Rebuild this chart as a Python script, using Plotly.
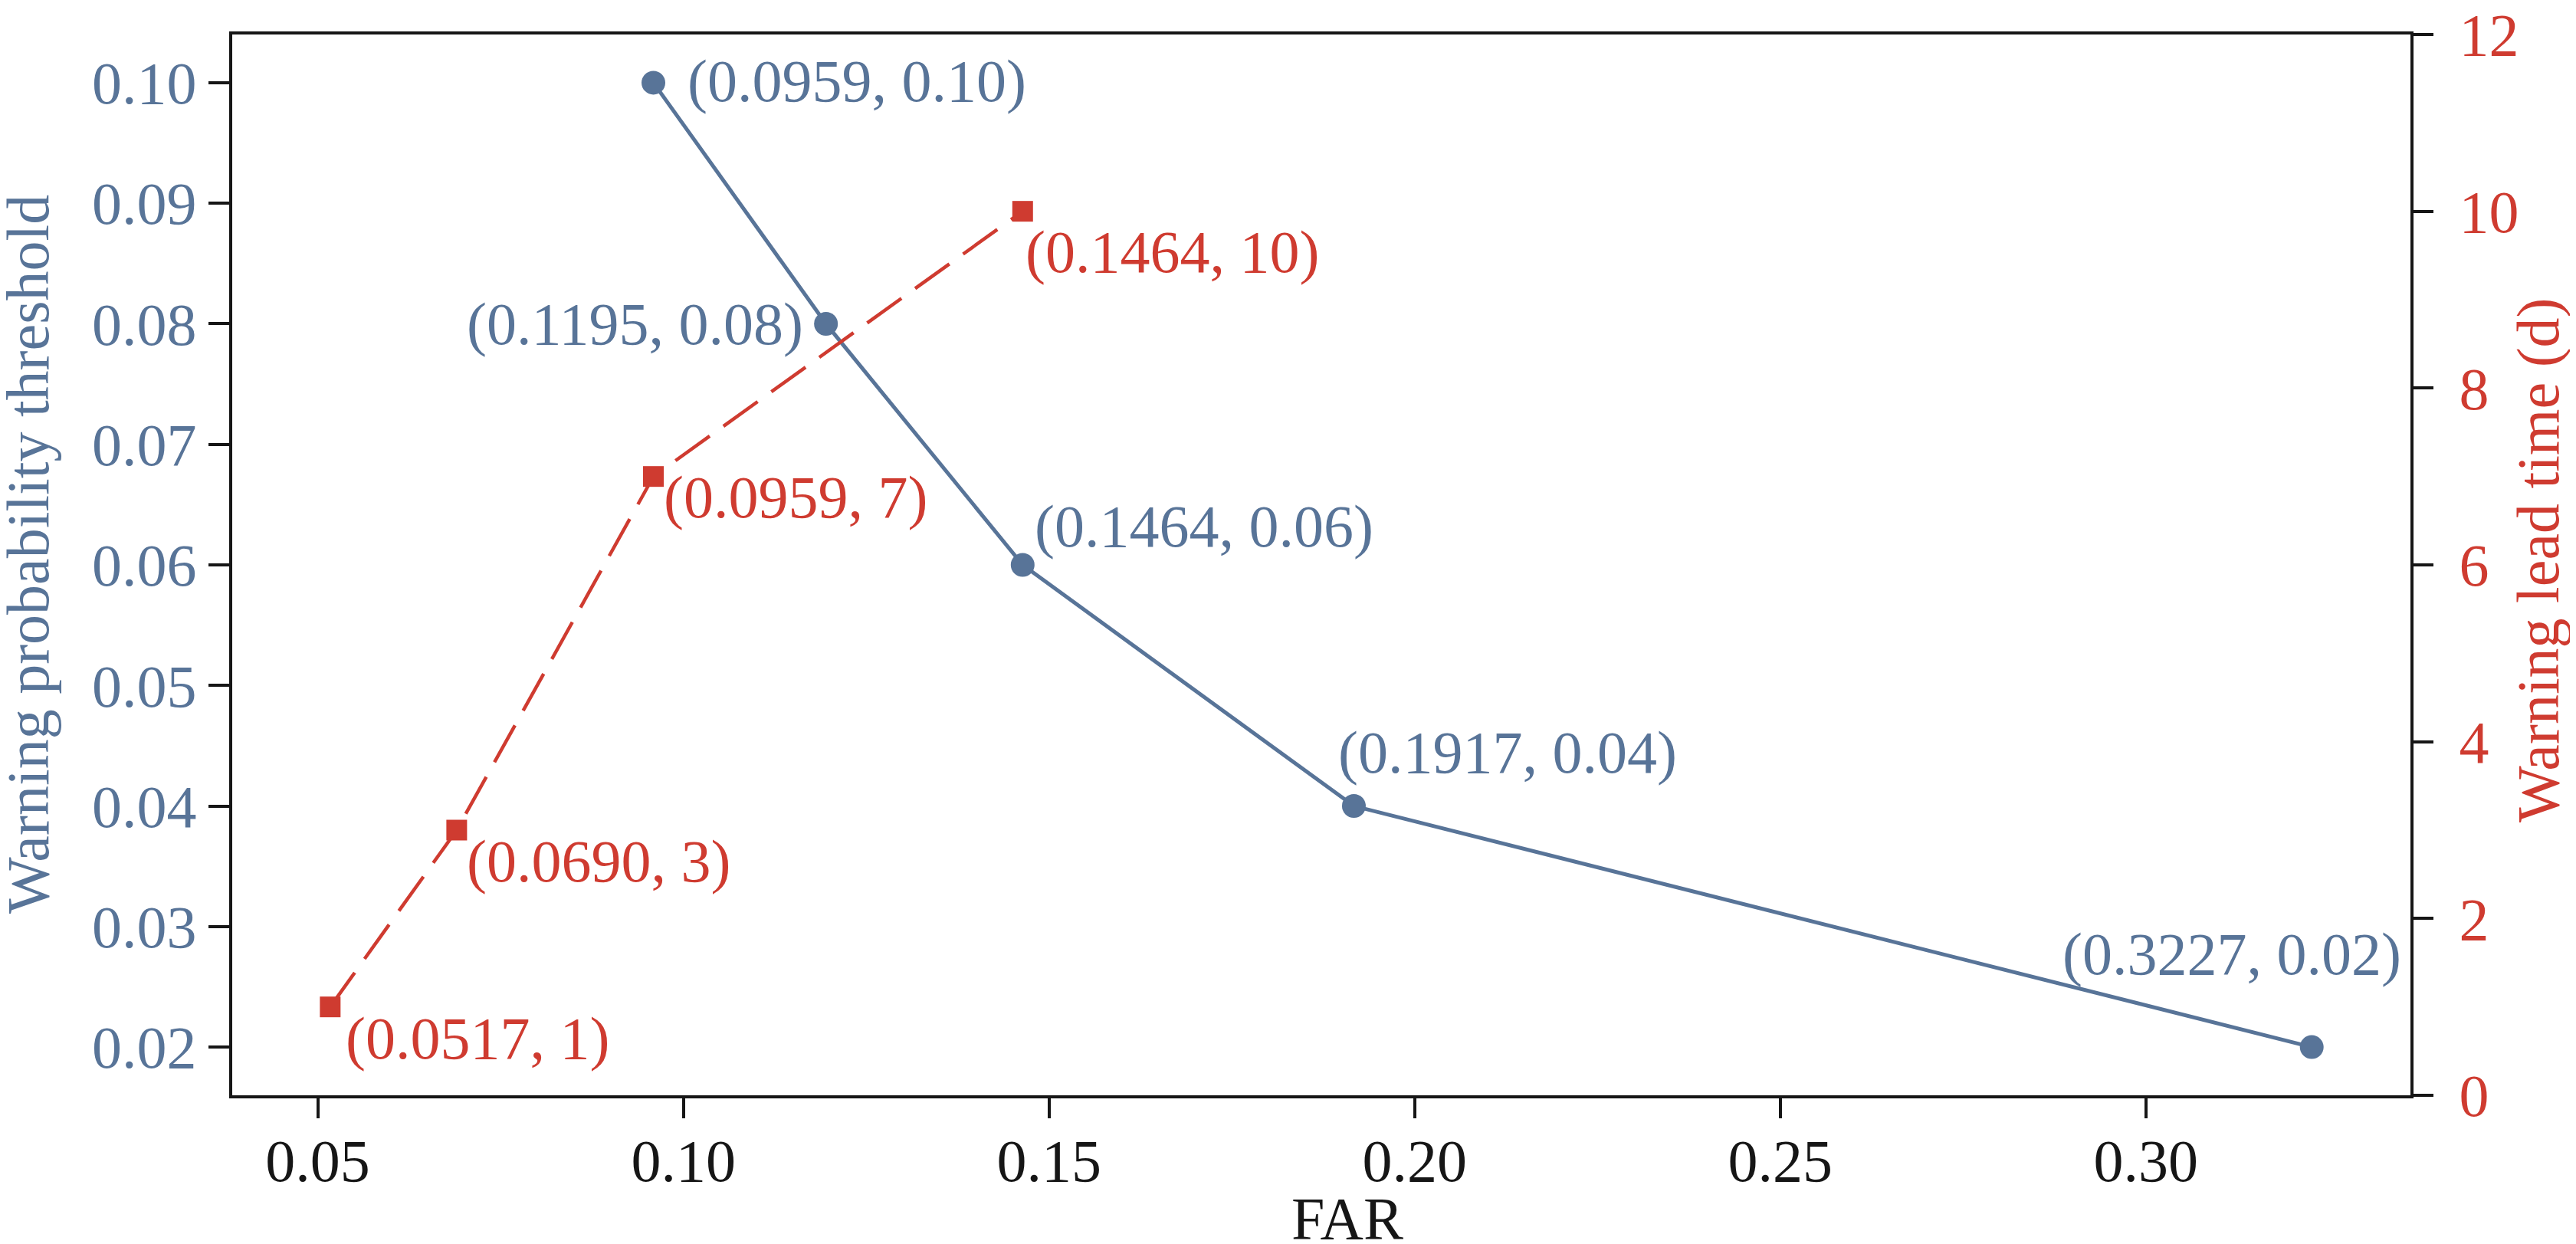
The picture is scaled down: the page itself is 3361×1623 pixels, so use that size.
import plotly.graph_objects as go

# Data
far_threshold = [0.0959, 0.1195, 0.1464, 0.1917, 0.3227]
threshold = [0.10, 0.08, 0.06, 0.04, 0.02]
threshold_labels = ["(0.0959, 0.10)", "(0.1195, 0.08)", "(0.1464, 0.06)", "(0.1917, 0.04)", "(0.3227, 0.02)"]

far_lead = [0.0517, 0.0690, 0.0959, 0.1464]
lead_time = [1, 3, 7, 10]
lead_labels = ["(0.0517, 1)", "(0.0690, 3)", "(0.0959, 7)", "(0.1464, 10)"]

x_ticks = [0.05, 0.10, 0.15, 0.20, 0.25, 0.30]
y1_ticks = [0.02, 0.03, 0.04, 0.05, 0.06, 0.07, 0.08, 0.09, 0.10]
y2_ticks = [0, 2, 4, 6, 8, 10, 12]

x_title = "FAR"
y1_title = "Warning probability threshold"
y2_title = "Warning lead time (d)"

# Label placement styles (anchor side, pixel offsets)
thr_anchor = ["left", "right", "left", "left", "left"]
thr_dx = [43, -29, 15, -21, -326]
thr_dy = [2, 0, 51, 70, 122]
lead_anchor = ["left", "left", "left", "left"]
lead_dx = [19, 12, 12, 3]
lead_dy = [-41, -40, -27, -53]

BLUE = "#587498"
RED = "#cf3b30"
AXIS = "#161616"
FONT = "Liberation Serif"
FS = 78

fig = go.Figure()

fig.add_trace(go.Scatter(
    x=far_threshold, y=threshold, mode="lines+markers",
    line=dict(color=BLUE, width=5),
    marker=dict(symbol="circle", size=31, color=BLUE),
    yaxis="y", showlegend=False, cliponaxis=False,
))

fig.add_trace(go.Scatter(
    x=far_lead, y=lead_time, mode="lines+markers",
    line=dict(color=RED, width=4.5, dash="55px,22px"),
    marker=dict(symbol="square", size=27, color=RED),
    yaxis="y2", showlegend=False, cliponaxis=False,
))

annotations = []
for xv, yv, t, a, dx, dy in zip(far_threshold, threshold, threshold_labels, thr_anchor, thr_dx, thr_dy):
    annotations.append(dict(x=xv, y=yv, xref="x", yref="y", text=t, showarrow=False,
                            xanchor=a, yanchor="middle", xshift=dx, yshift=dy, borderpad=0,
                            font=dict(family=FONT, size=FS, color=BLUE)))
for xv, yv, t, a, dx, dy in zip(far_lead, lead_time, lead_labels, lead_anchor, lead_dx, lead_dy):
    annotations.append(dict(x=xv, y=yv, xref="x", yref="y2", text=t, showarrow=False,
                            xanchor=a, yanchor="middle", xshift=dx, yshift=dy, borderpad=0,
                            font=dict(family=FONT, size=FS, color=RED)))

# Axis titles placed as paper-anchored annotations
annotations.append(dict(x=0.512, y=-0.116, xref="paper", yref="paper", text=x_title, showarrow=False,
                        xanchor="center", yanchor="middle", borderpad=0,
                        font=dict(family=FONT, size=FS, color=AXIS)))
annotations.append(dict(x=-0.094, y=0.51, xref="paper", yref="paper", text=y1_title, showarrow=False,
                        textangle=-90, xanchor="center", yanchor="middle", borderpad=0,
                        font=dict(family=FONT, size=FS, color=BLUE)))
annotations.append(dict(x=1.0584, y=0.505, xref="paper", yref="paper", text=y2_title, showarrow=False,
                        textangle=-90, xanchor="center", yanchor="middle", borderpad=0,
                        font=dict(family=FONT, size=FS, color=RED)))

fig.update_layout(
    width=3361, height=1623,
    margin=dict(l=295, r=224, t=37, b=202, autoexpand=False),
    paper_bgcolor="white", plot_bgcolor="white",
    font=dict(family=FONT, size=FS, color="black"),
    annotations=annotations,
    xaxis=dict(
        range=[0.0383, 0.3362], tickvals=x_ticks, tickformat=".2f",
        showline=True, linecolor=AXIS, linewidth=4, mirror=True,
        ticks="outside", ticklen=26, tickwidth=4, tickcolor=AXIS,
        ticklabelstandoff=-12,
        showgrid=False, zeroline=False,
        tickfont=dict(family=FONT, size=FS, color=AXIS),
    ),
    yaxis=dict(
        range=[0.016, 0.104], tickvals=y1_ticks, tickformat=".2f",
        showline=True, linecolor=AXIS, linewidth=4,
        ticks="outside", ticklen=27, tickwidth=4, tickcolor=AXIS,
        showgrid=False, zeroline=False,
        tickfont=dict(family=FONT, size=FS, color=BLUE),
    ),
    yaxis2=dict(
        range=[0, 12], tickvals=y2_ticks, overlaying="y", side="right",
        showline=True, linecolor=AXIS, linewidth=4,
        ticks="outside", ticklen=26, tickwidth=4, tickcolor=AXIS,
        ticklabeloverflow="allow", ticklabelstandoff=18,
        showgrid=False, zeroline=False,
        tickfont=dict(family=FONT, size=FS, color=RED),
    ),
)

fig.write_html("out.html")
